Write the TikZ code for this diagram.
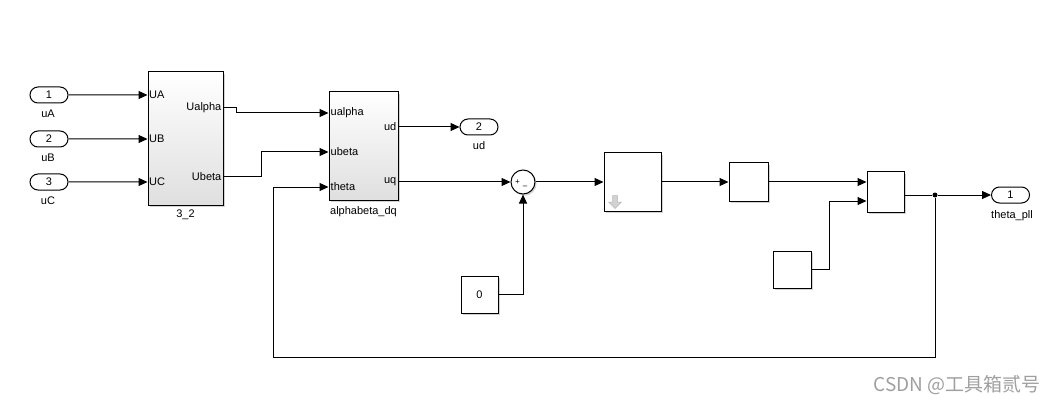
\documentclass[tikz,border=0pt]{standalone}
\usepackage{fontspec}
\setmainfont{Liberation Sans}
\newfontfamily\cjk{Noto Sans CJK SC}
\usetikzlibrary{arrows.meta,shapes.misc,shadows}
\begin{document}
\begin{tikzpicture}[x=1pt,y=-1pt,
  font=\fontsize{11}{13}\selectfont,
  wire/.style={draw, line width=1pt},
  sig/.style={wire, -{Triangle[length=9pt,width=8pt]}},
  portnode/.style={rounded rectangle, draw, line width=1pt, minimum width=38pt, minimum height=16pt, inner sep=0pt, fill=white},
  blk/.style={draw, line width=1pt, fill=white, inner sep=0pt, drop shadow={shadow xshift=1.6pt, shadow yshift=-1.6pt, opacity=0.35}},
  subsys/.style={blk, top color=white, bottom color=gray!25},
  plab/.style={inner sep=1.5pt},
  dotnode/.style={circle, fill, inner sep=0pt, minimum size=5pt}
]
\useasboundingbox (0,0) rectangle (1059,406);

% inports
\node[portnode] (in1) at (49,95) {1};
\node (lin1) at (48,114) {uA};
\node[portnode] (in2) at (49,139) {2};
\node (lin2) at (48,158) {uB};
\node[portnode] (in3) at (49,182) {3};
\node (lin3) at (48,201) {uC};

% 3_2 block
\node[subsys, minimum width=75pt, minimum height=133pt] (b32) at (185.5,138.5) {};
\node (lb32) at (185.5,215) {3\_2};
\node[plab, anchor=west] (lUA) at (b32.west |- in1) {UA};
\node[plab, anchor=west] (lUB) at (b32.west |- in2) {UB};
\node[plab, anchor=west] (lUC) at (b32.west |- in3) {UC};
\node[plab, anchor=east] (lUalpha) at (223,108) {Ualpha};
\node[plab, anchor=east] (lUbeta) at (223,177) {Ubeta};

% alphabeta_dq block
\node[subsys, minimum width=69pt, minimum height=108pt] (dq) at (363.5,146) {};
\node (ldq) at (363.5,212) {alphabeta\_dq};
\node[plab, anchor=west] (lualpha) at (329,113) {ualpha};
\node[plab, anchor=west] (lubeta) at (329,152) {ubeta};
\node[plab, anchor=west] (ltheta) at (329,187) {theta};
\node[plab, anchor=east] (lud) at (398,127) {ud};
\node[plab, anchor=east] (luq) at (398,182) {uq};

% outport 2
\node[portnode] (out2) at (479,127) {2};
\node (lout2) at (479,146) {ud};

% sum
\node[blk, circle, minimum size=24pt] (sum) at (523,182) {};
\node[font=\fontsize{8}{8}\selectfont, inner sep=0pt] (splus) at (517.5,182) {+};
\node[font=\fontsize{8}{8}\selectfont, inner sep=0pt] (sminus) at (525,187) {\textendash};

% constant 0
\node[blk, minimum width=37pt, minimum height=37pt] (c0) at (479.5,294.5) {0};

% PI-like block
\node[blk, minimum width=57pt, minimum height=58pt] (pi) at (632.5,182) {};
\filldraw[fill=gray!35, draw=gray!55, line width=0.5pt]
  (612.5,195.5) -- (617.5,195.5) -- (617.5,202) -- (621.5,202) -- (615,208.5)
  -- (608.5,202) -- (612.5,202) -- cycle;

% integrator-like block
\node[blk, minimum width=39pt, minimum height=38pt] (ig) at (748.5,182) {};

% second constant
\node[blk, minimum width=38pt, minimum height=37pt] (c1) at (792,269.5) {};

% combining block
\node[blk, minimum width=37pt, minimum height=40pt] (cmb) at (885.5,192) {};

% outport 1
\node[portnode] (out1) at (1010.5,195) {1};
\node (lout1) at (1012,216) {theta\_pll};

% junction and feedback corner
\node[dotnode] (jn) at (935,195) {};
\coordinate (fb) at (273,357);

% watermark
\node[text=gray!75, font=\cjk\fontsize{19}{19}\selectfont] (wm) at (957,385) {CSDN @工具箱贰号};

% connectors
\draw[sig] (in1) -- (in1 -| b32.west);
\draw[sig] (in2) -- (in2 -| b32.west);
\draw[sig] (in3) -- (in3 -| b32.west);
\draw[sig] (b32.east |- lUalpha) -- ++(13,0) |- (dq.west |- lualpha);
\draw[sig] (b32.east |- lUbeta) -- ++(38,0) |- (dq.west |- lubeta);
\draw[sig] (dq.east |- lud) -- (out2);
\draw[sig] (dq.east |- luq) -- (sum);
\draw[sig] (c0) -| (sum);
\draw[sig] (sum) -- (pi);
\draw[sig] (pi) -- (ig);
\draw[sig] (ig.east) -- (cmb.west |- ig.east);
\draw[sig] (c1) -- ++(37,0) |- (cmb.west |- 0,201);
\draw[wire] (cmb.east |- jn) -- (jn);
\draw[sig] (jn) -- (out1);
\draw[sig] (jn) -- (jn |- fb) -- (fb) |- (dq.west |- ltheta);
\end{tikzpicture}
\end{document}
